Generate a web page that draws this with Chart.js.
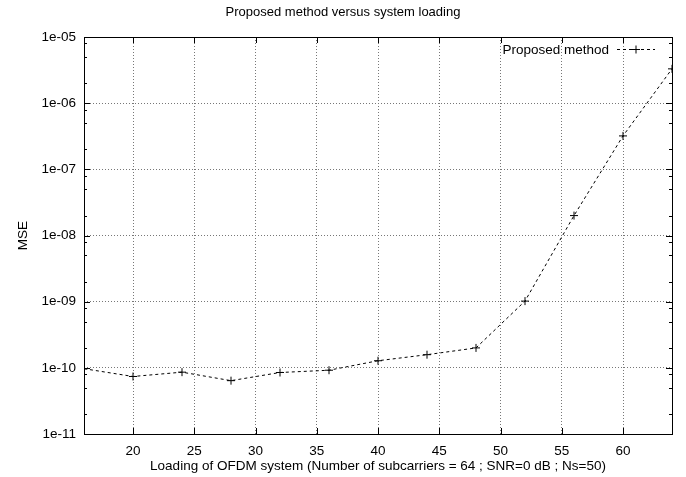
<!DOCTYPE html>
<html>
<head>
<meta charset="utf-8">
<script src="https://cdn.jsdelivr.net/npm/chart.js@4.4.1/dist/chart.umd.min.js"></script>
<style>
  html, body { margin: 0; padding: 0; background: #fff; }
  #mseChart { display: block; }
</style>
</head>
<body>
<canvas id="mseChart" width="686" height="477"></canvas>
<script>
// Data
const loading = [16, 20, 24, 28, 32, 36, 40, 44, 48, 52, 56, 60, 64];
const mse = [9.7e-11, 7.4e-11, 8.6e-11, 6.4e-11, 8.5e-11, 9.2e-11, 1.28e-10, 1.58e-10, 2.0e-10, 1.02e-9, 2.0e-8, 3.2e-7, 3.3e-6];

// Axis ticks
const xTicks = [20, 25, 30, 35, 40, 45, 50, 55, 60];
const yTicks = [1e-11, 1e-10, 1e-9, 1e-8, 1e-7, 1e-6, 1e-5];
const yTickLabels = ['1e-11', '1e-10', '1e-09', '1e-08', '1e-07', '1e-06', '1e-05'];
const yMinorMantissas = [2, 5, 8];

const titleText = 'Proposed method versus system loading';
const xTitle = 'Loading of OFDM system (Number of subcarriers = 64 ; SNR=0 dB ; Ns=50)';
const yTitle = 'MSE';
const seriesName = 'Proposed method';

const FONT = '"Liberation Sans", Arial, Helvetica, sans-serif';

// frame, inward ticks, titles and the key, drawn the gnuplot way
const gnuplotFrame = {
  id: 'gnuplotFrame',
  afterDraw(chart) {
    const { ctx, chartArea: a, scales } = chart;
    const xs = scales.x, ys = scales.y;
    ctx.save();
    ctx.strokeStyle = '#000';
    ctx.lineWidth = 1;
    ctx.setLineDash([]);
    ctx.strokeRect(a.left + 0.5, a.top + 0.5, a.right - a.left, a.bottom - a.top);

    ctx.beginPath();
    xTicks.forEach(v => {
      const px = Math.round(xs.getPixelForValue(v)) + 0.5;
      ctx.moveTo(px, a.bottom); ctx.lineTo(px, a.bottom - 6);
      ctx.moveTo(px, a.top); ctx.lineTo(px, a.top + 6);
    });
    yTicks.forEach(v => {
      const py = Math.round(ys.getPixelForValue(v)) + 0.5;
      ctx.moveTo(a.left, py); ctx.lineTo(a.left + 6, py);
      ctx.moveTo(a.right, py); ctx.lineTo(a.right - 6, py);
    });
    yTicks.slice(0, -1).forEach(dec => {
      yMinorMantissas.forEach(m => {
        const py = Math.round(ys.getPixelForValue(dec * m)) + 0.5;
        ctx.moveTo(a.left, py); ctx.lineTo(a.left + 3, py);
        ctx.moveTo(a.right, py); ctx.lineTo(a.right - 3, py);
      });
    });
    ctx.stroke();

    ctx.fillStyle = '#000';
    ctx.textBaseline = 'middle';
    ctx.textAlign = 'center';
    ctx.font = '13px ' + FONT;
    ctx.fillText(titleText, chart.width / 2, 12);
    ctx.font = '13.5px ' + FONT;
    ctx.fillText(xTitle, (a.left + a.right) / 2, 466);

    ctx.save();
    ctx.translate(23, (a.top + a.bottom) / 2);
    ctx.rotate(-Math.PI / 2);
    ctx.fillText(yTitle, 0, 0);
    ctx.restore();

    // key
    ctx.textAlign = 'right';
    ctx.fillText(seriesName, 609, 50);
    ctx.beginPath();
    ctx.setLineDash([3, 3]);
    ctx.moveTo(617, 49.5); ctx.lineTo(655, 49.5);
    ctx.stroke();
    ctx.setLineDash([]);
    ctx.beginPath();
    ctx.moveTo(632, 49.5); ctx.lineTo(640, 49.5);
    ctx.moveTo(636, 45.5); ctx.lineTo(636, 53.5);
    ctx.stroke();
    ctx.restore();
  }
};

const ctx = document.getElementById('mseChart').getContext('2d');
const mseChart = new Chart(ctx, {
  type: 'line',
  data: {
    datasets: [{
      label: seriesName,
      data: loading.map((x, i) => ({ x: x, y: mse[i] })),
      borderColor: '#000',
      borderWidth: 1,
      borderDash: [3, 3],
      pointStyle: 'cross',
      pointRadius: 4,
      pointBorderWidth: 1,
      pointBorderColor: '#000',
      tension: 0,
      fill: false
    }]
  },
  options: {
    responsive: false,
    animation: false,
    devicePixelRatio: 1,
    layout: { padding: { top: 37, right: 14, left: 0, bottom: 0 } },
    plugins: {
      legend: { display: false },
      title: { display: false },
      tooltip: { enabled: false }
    },
    scales: {
      x: {
        type: 'linear',
        min: 16,
        max: 64,
        afterBuildTicks: s => { s.ticks = xTicks.map(v => ({ value: v })); },
        afterFit: s => { s.height = 43; },
        ticks: {
          color: '#000',
          font: { size: 13.5, family: FONT },
          padding: 9,
          maxRotation: 0,
          autoSkip: false,
          callback: v => String(v)
        },
        grid: { color: '#777', lineWidth: 1, drawTicks: false },
        border: { display: false, dash: [1, 2] }
      },
      y: {
        type: 'logarithmic',
        min: 1e-11,
        max: 1e-5,
        afterBuildTicks: s => { s.ticks = yTicks.map(v => ({ value: v })); },
        afterFit: s => { s.width = 84; },
        ticks: {
          color: '#000',
          font: { size: 13.5, family: FONT },
          padding: 8,
          autoSkip: false,
          callback: (v, i) => yTickLabels[i]
        },
        grid: { color: '#777', lineWidth: 1, drawTicks: false },
        border: { display: false, dash: [1, 2] }
      }
    }
  },
  plugins: [gnuplotFrame]
});
</script>
</body>
</html>
